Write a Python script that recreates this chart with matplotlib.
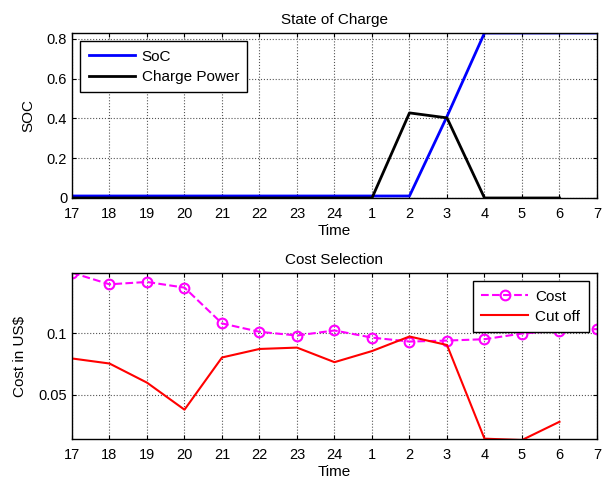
import matplotlib.pyplot as plt
import numpy as np

plt.rcParams['font.family'] = ['Liberation Sans', 'DejaVu Sans']

hours = ['17', '18', '19', '20', '21', '22', '23', '24', '1', '2', '3', '4', '5', '6', '7']
soc = [0.01, 0.01, 0.01, 0.01, 0.01, 0.01, 0.01, 0.01, 0.01, 0.01, 0.41, 0.83, 0.83, 0.83, 0.83]
charge_power = [0, 0, 0, 0, 0, 0, 0, 0, 0, 0.428, 0.403, 0, 0, 0]
cost = [0.149, 0.1396, 0.1415, 0.1369, 0.1079, 0.1011, 0.0981, 0.1022, 0.0964,
        0.0932, 0.094, 0.0951, 0.0997, 0.102, 0.1033]
cut_off = [0.0795, 0.0754, 0.0599, 0.038, 0.0803, 0.0872, 0.0883, 0.0765, 0.0855,
           0.0973, 0.0904, 0.0145, 0.0134, 0.0282]

x = np.arange(len(hours))

fig = plt.figure(figsize=(6.07, 4.83), dpi=100)
ax1 = fig.add_axes([0.1186, 0.5901, 0.8649, 0.3416])
ax2 = fig.add_axes([0.1186, 0.0905, 0.8649, 0.3449])


def style(ax):
    ax.set_xlim(0, len(hours) - 1)
    ax.set_xticks(x)
    ax.set_xticklabels(hours)
    ax.tick_params(direction='in', top=True, right=True, labelsize=10.5, length=3)
    ax.tick_params(axis='x', pad=6.5)
    ax.grid(True, linestyle=':', color='#555555', linewidth=0.8)
    for s in ax.spines.values():
        s.set_linewidth(1.0)
    ax.set_xlabel('Time', fontsize=11, labelpad=2)


# State of charge
ax1.plot(x, soc, color='#0000ff', linewidth=2, label='SoC')
ax1.plot(x[:len(charge_power)], charge_power, color='black', linewidth=2, label='Charge Power')
style(ax1)
ax1.set_ylim(0, 0.83)
ax1.set_yticks([0, 0.2, 0.4, 0.6, 0.8])
ax1.set_yticklabels(['0', '0.2', '0.4', '0.6', '0.8'])
ax1.set_ylabel('SOC', fontsize=11, labelpad=8)
ax1.set_title('State of Charge', fontsize=11, pad=6.5)
leg = ax1.legend(loc='upper left', fontsize=11, fancybox=False, edgecolor='black',
                 handlelength=3.0, handletextpad=0.45, borderpad=0.55, labelspacing=0.4,
                 borderaxespad=0.55, framealpha=1)
leg.get_frame().set_linewidth(1.0)

# Cost selection
ax2.plot(x, cost, color='#ff00ff', linestyle='--', linewidth=1.5, marker='o',
         markersize=7, markerfacecolor='none', markeredgewidth=1.5, label='Cost')
ax2.plot(x[:len(cut_off)], cut_off, color='red', linewidth=1.5, label='Cut off')
style(ax2)
ax2.set_ylim(0.014, 0.149)
ax2.set_yticks([0.05, 0.1])
ax2.set_yticklabels(['0.05', '0.1'])
ax2.set_ylabel('Cost in US$', fontsize=11, labelpad=8)
ax2.set_title('Cost Selection', fontsize=11, pad=6.5)
leg2 = ax2.legend(loc='upper right', fontsize=11, fancybox=False, edgecolor='black',
                  handlelength=3.1, handletextpad=0.45, borderpad=0.55, labelspacing=0.4,
                  borderaxespad=0.55, framealpha=1)
leg2.get_frame().set_linewidth(1.0)

fig.savefig('out.png', dpi=100)
